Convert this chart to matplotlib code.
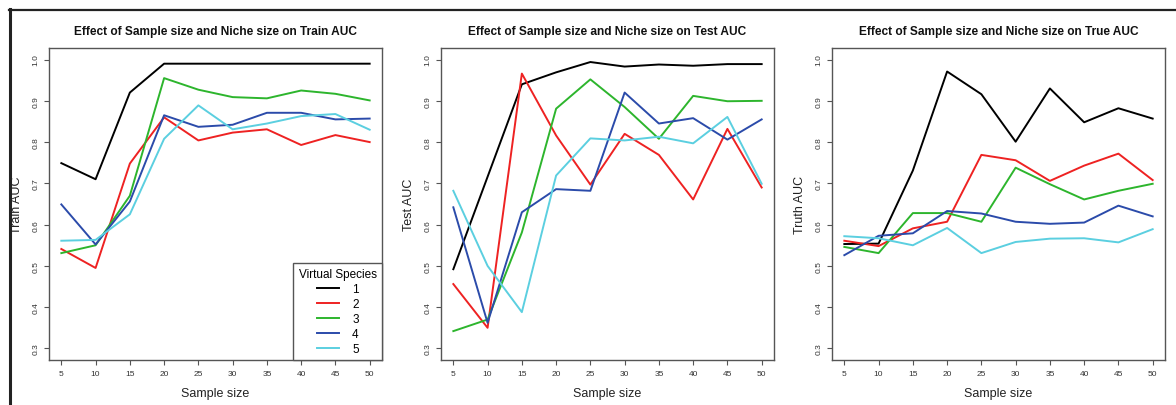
import matplotlib
matplotlib.use("Agg")
import matplotlib.pyplot as plt
from matplotlib.lines import Line2D

plt.rcParams['font.family'] = ['Liberation Sans', 'DejaVu Sans']

sample_size = [5, 10, 15, 20, 25, 30, 35, 40, 45, 50]
species = ['1', '2', '3', '4', '5']
colors = ['#000000', '#EE2222', '#2DB52D', '#2B4BAA', '#5BCFE0']

train_auc = {
    '1': [0.749, 0.710, 0.920, 0.990, 0.990, 0.990, 0.990, 0.990, 0.990, 0.990],
    '2': [0.541, 0.495, 0.748, 0.860, 0.804, 0.823, 0.831, 0.793, 0.817, 0.800],
    '3': [0.531, 0.550, 0.670, 0.955, 0.927, 0.909, 0.906, 0.925, 0.917, 0.901],
    '4': [0.649, 0.552, 0.656, 0.865, 0.837, 0.842, 0.871, 0.871, 0.855, 0.857],
    '5': [0.561, 0.563, 0.625, 0.808, 0.889, 0.831, 0.845, 0.863, 0.868, 0.830],
}
test_auc = {
    '1': [0.492, 0.716, 0.940, 0.969, 0.994, 0.983, 0.988, 0.985, 0.989, 0.989],
    '2': [0.456, 0.350, 0.966, 0.816, 0.697, 0.820, 0.769, 0.661, 0.832, 0.690],
    '3': [0.342, 0.370, 0.581, 0.881, 0.952, 0.885, 0.808, 0.912, 0.899, 0.900],
    '4': [0.642, 0.362, 0.630, 0.686, 0.682, 0.920, 0.845, 0.858, 0.806, 0.855],
    '5': [0.682, 0.500, 0.388, 0.719, 0.809, 0.804, 0.813, 0.797, 0.861, 0.699],
}
true_auc = {
    '1': [0.553, 0.554, 0.731, 0.971, 0.916, 0.801, 0.930, 0.848, 0.882, 0.857],
    '2': [0.561, 0.548, 0.591, 0.607, 0.769, 0.756, 0.706, 0.743, 0.772, 0.708],
    '3': [0.546, 0.531, 0.628, 0.628, 0.607, 0.738, 0.698, 0.661, 0.682, 0.699],
    '4': [0.526, 0.573, 0.579, 0.633, 0.627, 0.607, 0.602, 0.605, 0.646, 0.620],
    '5': [0.572, 0.567, 0.550, 0.592, 0.531, 0.558, 0.566, 0.567, 0.557, 0.589],
}

titles = ['Effect of Sample size and Niche size on Train AUC',
          'Effect of Sample size and Niche size on Test AUC',
          'Effect of Sample size and Niche size on True AUC']
ylabels = ['Train AUC', 'Test AUC', 'Truth AUC']
yticks = [0.3, 0.4, 0.5, 0.6, 0.7, 0.8, 0.9, 1.0]
ytick_labels = ['0.3', '0.4', '0.5', '0.6', '0.7', '0.8', '0.9', '1.0']
xlabel = 'Sample size'
legend_title = 'Virtual Species'

W, H = 1176, 406
fig = plt.figure(figsize=(W / 100, H / 100), dpi=100)

lefts = [49, 441, 832]
ax_w = 333
ax_top, ax_bot = 49, 361

spine_col = '#555555'
tick_col = '#333333'

datasets = [train_auc, test_auc, true_auc]
for i, (data, title, ylab) in enumerate(zip(datasets, titles, ylabels)):
    ax = fig.add_axes([lefts[i] / W, (H - ax_bot) / H, ax_w / W, (ax_bot - ax_top) / H])
    for sp, col in zip(species, colors):
        ax.plot(sample_size, data[sp], color=col, lw=1.4, label=sp)
    ax.set_xlim(3.2, 51.8)
    ax.set_ylim(0.272, 1.028)
    ax.set_xticks(sample_size)
    ax.set_xticklabels([str(s) for s in sample_size])
    ax.set_yticks(yticks)
    ax.set_yticklabels(ytick_labels, rotation=90, va='center')
    ax.tick_params(axis='both', length=3.6, width=0.8, color=spine_col,
                   labelsize=6, labelcolor=tick_col)
    ax.tick_params(axis='x', pad=3.5)
    ax.tick_params(axis='y', pad=3)
    for s in ax.spines.values():
        s.set_color(spine_col)
        s.set_linewidth(1.0)
    ax.set_title(title, fontsize=8.6, fontweight='bold', pad=10, color='#111111')
    ax.text(-0.096, 0.5, ylab, transform=ax.transAxes, rotation=90,
            ha='center', va='center', fontsize=9, color='#222222')
    ax.text(0.5, -0.106, xlabel, transform=ax.transAxes,
            ha='center', va='center', fontsize=9, color='#222222')
    if i == 0:
        leg = ax.legend(title=legend_title, loc='lower right', fontsize=8.5,
                        title_fontsize=8.5, frameon=True, fancybox=False,
                        borderaxespad=0.0, handlelength=1.9, handletextpad=1.1,
                        labelspacing=0.25, borderpad=0.45, alignment='center')
        fr = leg.get_frame()
        fr.set_edgecolor(spine_col)
        fr.set_linewidth(1.0)
        fr.set_alpha(1.0)

# outer frame lines
fig.add_artist(Line2D([9 / W, 1.0], [1 - 10.5 / H, 1 - 10.5 / H],
                      transform=fig.transFigure, color='#222222', lw=1.6))
fig.add_artist(Line2D([10 / W, 10 / W], [0.0, 1 - 10 / H],
                      transform=fig.transFigure, color='#222222', lw=2.2))

fig.savefig('out.png', dpi=100)
